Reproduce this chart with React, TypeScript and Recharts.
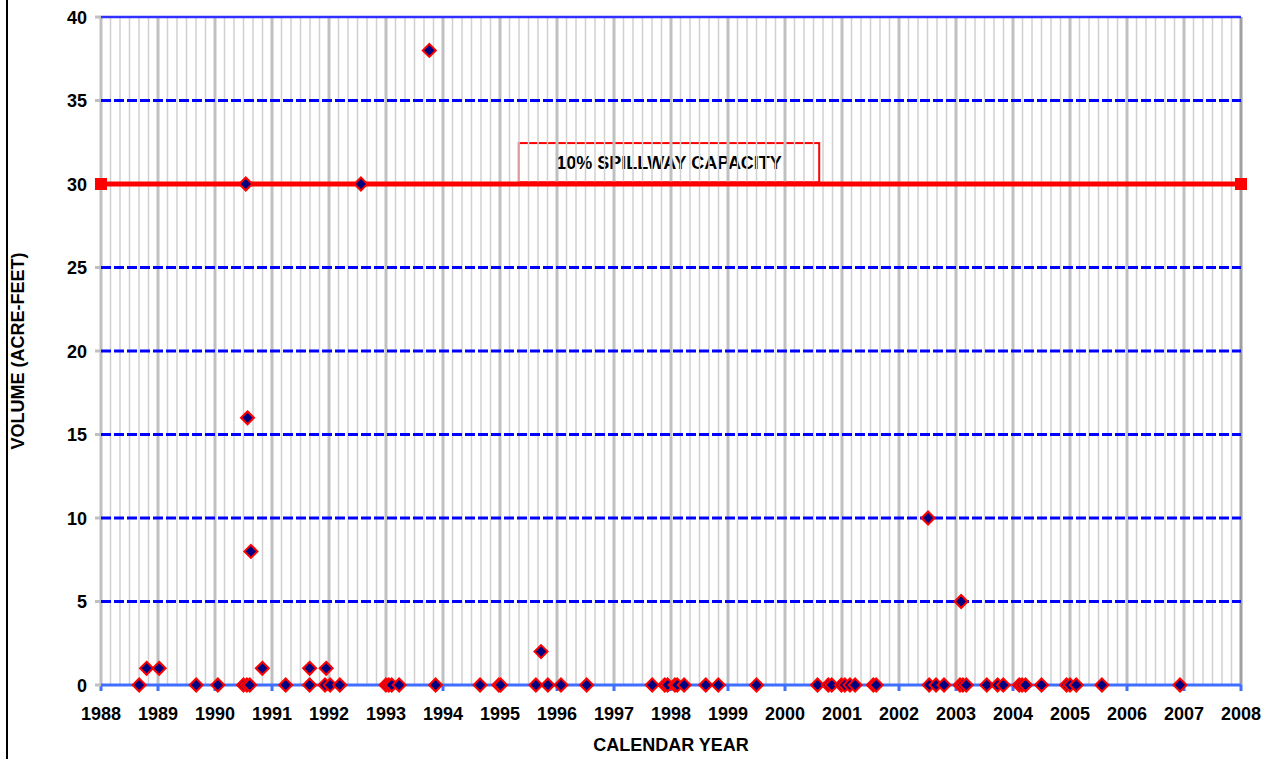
import React from 'react';
import { ScatterChart, Scatter, XAxis, YAxis, ReferenceLine, ReferenceArea } from 'recharts';

// event dates (decimal calendar year) and volumes (acre-feet)
const eventYears = [
  1988.67, 1988.8, 1989.02, 1989.67, 1990.05, 1990.5, 1990.54, 1990.57, 1990.56, 1990.61,
  1990.63, 1990.83, 1991.24, 1991.66, 1991.66, 1991.93, 1991.95, 1992.02, 1992.19, 1992.56,
  1993.0, 1993.05, 1993.1, 1993.23, 1993.76, 1993.87, 1994.65, 1994.98, 1995.01, 1995.63,
  1995.72, 1995.84, 1996.07, 1996.52, 1997.67, 1997.89, 1997.94, 1998.07, 1998.11, 1998.23,
  1998.61, 1998.83, 1999.5, 2000.57, 2000.76, 2000.82, 2000.99, 2001.05, 2001.14, 2001.23,
  2001.55, 2001.6, 2002.51, 2002.53, 2002.65, 2002.79, 2003.07, 2003.09, 2003.12, 2003.18,
  2003.54, 2003.73, 2003.83, 2004.11, 2004.16, 2004.22, 2004.5, 2004.94, 2005.0, 2005.11,
  2005.56, 2006.93,
];
const eventVolumes = [
  0, 1, 1, 0, 0, 0, 30, 16, 0, 0,
  8, 1, 0, 0, 1, 0, 1, 0, 0, 30,
  0, 0, 0, 0, 38, 0, 0, 0, 0, 0,
  2, 0, 0, 0, 0, 0, 0, 0, 0, 0,
  0, 0, 0, 0, 0, 0, 0, 0, 0, 0,
  0, 0, 10, 0, 0, 0, 0, 5, 0, 0,
  0, 0, 0, 0, 0, 0, 0, 0, 0, 0,
  0, 0,
];

const spillwayYears = [1988, 2008];
const spillwayVolume = 30;
const spillwayLabel = '10% SPILLWAY CAPACITY';

const yearTicks = [1988, 1989, 1990, 1991, 1992, 1993, 1994, 1995, 1996, 1997, 1998, 1999, 2000, 2001, 2002, 2003, 2004, 2005, 2006, 2007, 2008];
const volumeTicks = [0, 5, 10, 15, 20, 25, 30, 35, 40];
const dashedLevels = [5, 10, 15, 20, 25, 30, 35];

// bimonthly minor grid
const minorTicks: number[] = [];
yearTicks.slice(0, -1).forEach((y) => {
  for (let m = 1; m < 6; m++) minorTicks.push(y + m / 6);
});

const events = eventYears.map((x, i) => ({ x, y: eventVolumes[i] }));
const spillway = spillwayYears.map((x) => ({ x, y: spillwayVolume }));

const FONT = 'Liberation Sans, Arial, sans-serif';

const Bold = ({ x, y, anchor = 'middle', size = 18, rotate = 0, children }: any) => (
  <text
    transform={`translate(${x},${y}) rotate(${rotate})`}
    textAnchor={anchor}
    fontSize={size}
    fontWeight={700}
    fontFamily={FONT}
    fill="#000"
  >
    {children}
  </text>
);

const Diamond = (props: any) => {
  const { cx, cy } = props;
  const r = 6.5;
  return (
    <polygon
      points={`${cx},${cy - r} ${cx + r},${cy} ${cx},${cy + r} ${cx - r},${cy}`}
      fill="#000080"
      stroke="#ff0000"
      strokeWidth={2}
    />
  );
};

const Square = (props: any) => {
  const { cx, cy } = props;
  return <rect x={cx - 6} y={cy - 6} width={12} height={12} fill="#ff0000" />;
};

const YearTick = (props: any) => {
  const { x, y, payload } = props;
  return <Bold x={x} y={y + 27}>{payload.value}</Bold>;
};

const VolumeTick = (props: any) => {
  const { x, y, payload } = props;
  return <Bold x={x - 6} y={y + 6.5} anchor="end">{payload.value}</Bold>;
};

const XTitle = (props: any) => {
  const { viewBox } = props;
  return <Bold x={viewBox.x + viewBox.width / 2} y={751} size={18}>CALENDAR YEAR</Bold>;
};

const YTitle = (props: any) => {
  const { viewBox } = props;
  return <Bold x={24} y={viewBox.y + viewBox.height / 2} size={18} rotate={-90}>VOLUME (ACRE-FEET)</Bold>;
};

const LabelBox = (props: any) => {
  const { x, y, width, height } = props;
  return (
    <g>
      <rect x={x} y={y} width={width} height={height} fill="#ffffff" stroke="#ff0000" strokeWidth={2} />
      <Bold x={x + width / 2} y={y + height / 2 + 6.5} size={18}>{spillwayLabel}</Bold>
    </g>
  );
};

export default function App() {
  return (
    <div style={{ position: 'absolute', left: 0, top: 0, width: 1275, height: 759, background: '#fff', fontFamily: FONT }}>
      <div style={{ position: 'absolute', left: 6, top: 0, width: 2, height: 759, background: '#000' }} />
      <ScatterChart width={1275} height={759} margin={{ top: 17, right: 34, bottom: 0, left: 0 }}>
        <XAxis
          type="number"
          dataKey="x"
          domain={[1988, 2008]}
          ticks={yearTicks}
          axisLine={{ stroke: '#3f6fff', strokeWidth: 3 }}
          tickLine={{ stroke: '#3f6fff', strokeWidth: 3 }}
          tickSize={6}
          height={74}
          tick={<YearTick />}
          label={<XTitle />}
        />
        <YAxis
          type="number"
          dataKey="y"
          domain={[0, 40]}
          ticks={volumeTicks}
          axisLine={false}
          tickLine={{ stroke: '#c0c0c0', strokeWidth: 3 }}
          tickSize={6}
          width={101}
          tick={<VolumeTick />}
          label={<YTitle />}
        />
        {minorTicks.map((t) => (
          <ReferenceLine key={`m${t}`} x={t} stroke="#d0d0d0" strokeWidth={1.5} />
        ))}
        {yearTicks.map((t) => (
          <ReferenceLine key={`y${t}`} x={t} stroke={t === 2008 ? '#a0a0a0' : '#c0c0c0'} strokeWidth={3} />
        ))}
        {dashedLevels.map((v) => (
          <ReferenceLine key={`h${v}`} y={v} stroke="#0000ff" strokeWidth={3} strokeDasharray="10 3" />
        ))}
        <ReferenceLine y={40} stroke="#3030ff" strokeWidth={2.5} />
        <ReferenceArea x1={1995.33} x2={2000.6} y1={30.1} y2={32.45} shape={<LabelBox />} />
        <Scatter
          data={spillway}
          line={{ stroke: '#ff0000', strokeWidth: 5 }}
          shape={<Square />}
          isAnimationActive={false}
        />
        <Scatter data={events} shape={<Diamond />} isAnimationActive={false} />
      </ScatterChart>
    </div>
  );
}
